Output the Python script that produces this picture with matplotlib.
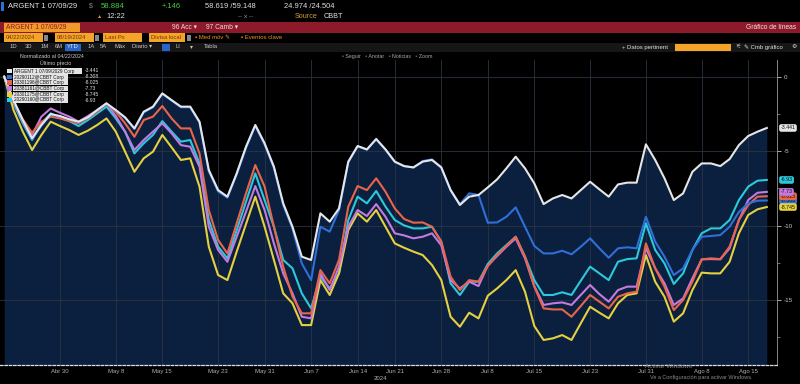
import matplotlib
matplotlib.use('Agg')
import matplotlib.pyplot as plt
import numpy as np
import pandas as pd
from matplotlib.patches import Rectangle

plt.rcParams['font.family'] = ['Liberation Sans', 'DejaVu Sans']

# ---------------- data ----------------
start_date = '2024-04-22'
end_date = '2024-08-19'
market_holidays = ['2024-05-27', '2024-06-19', '2024-07-04']

series_names = ['ARGENT 1 07/09/2029 Corp', '20290112@CBBT Corp', '20301196@CBBT Corp',
                '20381161@CBBT Corp', '20301175@CBBT Corp', '20290160@CBBT Corp']
series_colors = ['#e6e6e6', '#2f6fd8', '#e8654c', '#c47be0', '#e4d040', '#2cc9dc']
last_values = [-3.441, -8.308, -8.025, -7.73, -8.745, -6.93]

argent = [0, -1.57, -2.91, -4.14, -3.24, -2.51, -2.64, -2.86, -3.02, -2.73,
          -2.24, -1.79, -2.24, -2.73, -3.47, -2.35, -2.01, -1.12, -1.57, -2.01,
          -2.01, -3.02, -6.26, -7.61, -8.05, -6.49, -4.70, -3.24, -4.47, -6.04,
          -8.50, -10.07, -12.08, -12.30, -9.17, -9.73, -8.84, -5.70, -4.65, -4.88,
          -4.18, -4.88, -5.70,
          -6.00, -6.09, -5.70, -5.59, -6.09, -7.61, -8.61, -8.05, -7.94, -7.43,
          -6.89, -6.15, -5.37, -6.15, -7.16, -8.55, -8.17, -7.94, -8.17, -7.61,
          -7.05, -7.56, -8.05, -7.23, -7.11, -7.11, -4.54, -5.59, -6.82, -8.28,
          -7.83, -6.38, -5.82, -5.82, -6.00, -5.53, -4.59, -3.98, -3.69, -3.441]
bond_blue = [0, -1.6, -2.95, -4.2, -3.28, -2.55, -2.66, -2.88, -3.05, -2.76,
             -2.27, -1.82, -2.27, -2.76, -3.5, -2.4, -2.05, -1.15, -1.6, -2.05,
             -2.05, -3.08, -6.35, -7.7, -8.12, -6.56, -4.78, -3.3, -4.55, -6.12,
             -8.6, -10.2, -12.53, -13.65, -10.07, -10.40, -8.95, -5.75, -4.68, -4.9,
             -4.2, -4.9, -5.72,
             -6.00, -6.09, -5.66, -5.55, -6.09, -7.61, -8.55, -7.83, -7.94, -9.80,
             -9.78, -9.40, -8.77, -10.07, -11.36, -11.86, -11.86, -11.68, -11.92, -11.41,
             -10.85, -11.52, -12.15, -11.52, -11.45, -11.52, -9.40, -11.07, -12.08, -13.31,
             -12.86, -11.63, -10.74, -10.69, -10.63, -10.07, -9.08, -8.50, -8.32, -8.308]
bond_red = [0, -1.68, -2.86, -3.76, -3.02, -2.68, -2.80, -2.98, -3.13, -2.80,
            -2.35, -1.83, -2.35, -3.13, -4.03, -2.91, -2.68, -1.97, -2.80, -3.47,
            -3.47, -5.15, -8.95, -10.96, -11.86, -9.84, -7.83, -5.93, -7.38, -10.07,
            -12.75, -14.77, -15.88, -15.88, -12.98, -13.87, -12.30, -8.72, -7.34, -7.61,
            -6.82, -7.72, -8.84,
            -9.55, -9.80, -9.78, -10.07, -11.07, -13.42, -14.32, -13.65, -13.76, -12.71,
            -11.97, -11.36, -10.74, -12.08, -14.09, -15.55, -15.62, -15.62, -16.11, -15.39,
            -14.65, -15.10, -15.55, -14.77, -14.54, -14.43, -11.19, -12.86, -14.09, -15.66,
            -14.99, -13.76, -12.26, -12.19, -12.24, -11.41, -9.62, -8.61, -8.05, -8.025]
bond_violet = [0, -1.68, -3.02, -3.91, -2.68, -2.13, -2.42, -2.68, -3.02, -2.64,
               -2.24, -1.79, -2.64, -3.69, -4.92, -4.25, -3.69, -3.13, -3.80, -4.59,
               -4.70, -6.04, -10.07, -11.63, -12.42, -10.74, -9.06, -7.34, -8.95, -11.19,
               -13.20, -14.54, -16.11, -16.22, -13.20, -14.32, -12.75, -10.07, -8.95, -9.35,
               -8.55, -9.40, -10.51,
               -10.65, -10.85, -10.74, -10.51, -11.32, -13.65, -14.21, -13.76, -14.05, -12.68,
               -12.04, -11.41, -10.85, -12.19, -14.05, -15.32, -15.21, -15.15, -15.32, -14.65,
               -13.98, -14.59, -15.10, -14.32, -14.09, -14.09, -11.52, -12.86, -13.87, -15.32,
               -14.88, -13.53, -12.26, -12.24, -12.26, -11.52, -9.62, -8.28, -7.79, -7.73]
bond_yellow = [0, -2.24, -3.69, -4.92, -3.91, -3.02, -3.31, -3.58, -3.91, -3.62,
               -3.24, -2.80, -3.69, -5.03, -6.38, -5.48, -5.03, -3.91, -4.74, -5.59,
               -5.48, -7.38, -11.41, -13.31, -13.65, -11.74, -9.89, -8.05, -10.07, -12.30,
               -14.54, -15.21, -16.67, -16.67, -13.65, -14.65, -13.20, -10.29, -9.17, -9.73,
               -8.95, -10.07, -11.19,
               -11.48, -11.74, -11.97, -12.64, -13.65, -16.11, -16.78, -15.84, -16.22, -14.70,
               -14.21, -13.65, -12.98, -14.43, -16.73, -17.67, -17.56, -17.34, -17.67, -16.55,
               -15.44, -15.84, -16.22, -15.21, -14.65, -14.54, -11.97, -13.76, -14.77, -16.44,
               -15.88, -14.32, -13.15, -13.20, -13.20, -12.42, -10.51, -9.28, -8.90, -8.745]
bond_cyan = [0, -1.79, -3.13, -4.25, -3.13, -2.46, -2.73, -2.98, -3.31, -2.91,
             -2.46, -2.01, -2.80, -3.69, -5.15, -4.47, -3.91, -2.98, -3.69, -4.36,
             -4.25, -5.82, -9.62, -11.41, -12.19, -10.29, -8.39, -6.49, -8.28, -10.07,
             -12.30, -12.86, -14.54, -15.55, -13.42, -14.21, -13.20, -9.62, -8.05, -8.50,
             -7.67, -8.72, -9.62,
             -9.98, -10.18, -10.18, -10.07, -11.07, -13.87, -14.65, -13.76, -13.76, -12.57,
             -11.86, -11.30, -10.74, -12.08, -13.65, -14.65, -14.65, -14.47, -14.65, -13.69,
             -12.75, -13.20, -13.65, -12.42, -12.24, -12.19, -9.84, -11.63, -12.53, -13.91,
             -13.20, -11.63, -10.51, -10.18, -10.18, -9.62, -8.28, -7.38, -6.98, -6.93]

tick_dates = ['2024-04-30', '2024-05-08', '2024-05-15', '2024-05-23', '2024-05-31',
              '2024-06-07', '2024-06-14', '2024-06-21', '2024-06-28', '2024-07-08',
              '2024-07-15', '2024-07-23', '2024-07-31', '2024-08-08', '2024-08-15']
tick_labels = ['Abr 30', 'May 8', 'May 15', 'May 23', 'May 31', 'Jun 7', 'Jun 14',
               'Jun 21', 'Jun 28', 'Jul 8', 'Jul 15', 'Jul 23', 'Jul 31', 'Ago 8', 'Ago 15']
y_ticks = [0, -5, -10, -15]

# ---------------- figure ----------------
W, H = 800, 384
fig = plt.figure(figsize=(8, 3.84), dpi=100, facecolor='black')

dates = pd.bdate_range(start_date, end_date)
dates = dates[~dates.isin(pd.to_datetime(market_holidays))]
x = np.arange(len(dates))
series = [argent, bond_blue, bond_red, bond_violet, bond_yellow, bond_cyan]

def T(px, py, s, color='#e0e0e0', size=5.2, ha='left', **kw):
    return fig.text(px / W, 1 - py / H, s, color=color, fontsize=size, ha=ha,
                    va='center', **kw)

def R(x0, y0, x1, y1, color, z=1):
    r = Rectangle((x0 / W, 1 - y1 / H), (x1 - x0) / W, (y1 - y0) / H,
                  transform=fig.transFigure, facecolor=color, edgecolor='none', zorder=z)
    fig.patches.append(r)
    return r

# axes: plot spans px 0..777 horizontally, 60..365 vertically
ax = fig.add_axes([0 / W, (H - 365) / H, 777 / W, 305 / H])
ax.set_facecolor('black')
ax.set_xlim(-4.2 / 9.3, (777 - 4.2) / 9.3)
ax.set_ylim(-(365 - 76.7) / 14.9, -(60 - 76.7) / 14.9)

tick_idx = [int(np.where(dates == pd.Timestamp(d))[0][0]) for d in tick_dates]

ax.fill_between(x, argent, ax.get_ylim()[0], color='#0b1f3e', zorder=1, lw=0)
for v in y_ticks:
    ax.axhline(v, color='#2c3442', lw=0.6, zorder=1.5)
for t in tick_idx:
    ax.axvline(t, color='#2c3442', lw=0.6, zorder=1.5)

draw_order = [4, 3, 2, 5, 1, 0]
for k in draw_order:
    ax.plot(x, series[k], color=series_colors[k], lw=1.5, zorder=3 + 0.1 * (6 - k),
            solid_joinstyle='round')

ax.set_xticks(tick_idx)
ax.set_xticklabels(tick_labels)
ax.tick_params(axis='x', length=0, pad=3, labelsize=4.3, colors='#b0b0b0')
ax.yaxis.tick_right()
ax.set_yticks(y_ticks)
ax.set_yticklabels([str(v) for v in y_ticks])
ax.set_yticks([-2.5, -7.5, -12.5, -17.5], minor=True)
ax.tick_params(axis='y', which='major', length=3, width=0.6, pad=2, labelsize=4.5,
               colors='#c8c8c8', direction='out')
ax.tick_params(axis='y', which='minor', length=2, width=0.5, colors='#999999')
for s in ['top', 'left']:
    ax.spines[s].set_visible(False)
ax.spines['right'].set_color('#9a9a9a')
ax.spines['right'].set_linewidth(0.6)
ax.spines['bottom'].set_color('#d8e0ee')
ax.spines['bottom'].set_linewidth(0.9)
ax.spines['bottom'].set_linestyle((0, (2, 1.5)))

# last value tags
tag_text = ['-3.441', '-8.308', '-8.025', '-7.73', '-8.745', '-6.93']
tag_order = [1, 2, 3, 5, 4, 0]
for k in tag_order:
    ax.annotate(tag_text[k],
                xy=(1, series[k][-1]), xycoords=('axes fraction', 'data'),
                xytext=(2.5, 0), textcoords='offset points', va='center', ha='left',
                fontsize=3.8, color='#111111', annotation_clip=False,
                bbox=dict(boxstyle='round,pad=0.25,rounding_size=0.4', fc=series_colors[k],
                          ec='none'))

T(380, 378, '2024', color='#b0b0b0', size=4.3, ha='center')

# ---------------- header ----------------
R(1, 2, 4, 11, '#2f6fd8')
T(8, 6.5, 'ARGENT 1 07/09/29', color='#e8e8e8', size=5.4)
T(89, 6.5, '$', color='#888888', size=5.0)
T(101, 6.5, '58.884', color='#3fcf3f', size=5.6)
T(162, 6.5, '+.146', color='#3fcf3f', size=5.4)
T(205, 6.5, '58.619 /59.148', color='#e0e0e0', size=5.4)
T(284, 6.5, '24.974 /24.504', color='#e0e0e0', size=5.4)
T(97, 16.5, '▲', color='#e89a2c', size=3.8)
T(106, 16.5, '12:22', color='#e0e0e0', size=5.4)
T(238, 16.5, '-- x --', color='#9a9a9a', size=4.6)
T(295, 16.5, 'Source', color='#d09a3a', size=5.2)
T(324, 16.5, 'CBBT', color='#e0e0e0', size=5.2)

# red band
R(0, 22, 800, 32.5, '#8c1a2b')
R(4, 23, 80, 31.5, '#f09a2a', z=2)
T(6, 27.5, 'ARGENT 1 07/09/29', color='#8c1a2b', size=4.8)
T(172, 27.5, '96 Acc ▾', color='#f0d8d8', size=4.8)
T(206, 27.5, '97 Camb ▾', color='#f0d8d8', size=4.8)
T(796, 27.5, 'Gráfico de líneas', color='#f4e4e4', size=4.8, ha='right')

# orange boxes row
for (a, b, s) in [(4, 43, '04/22/2024'), (55, 94, '08/19/2024'), (103, 142, 'Last Px'),
                  (149, 185, 'Divisa local')]:
    R(a, 33.5, b, 41.5, '#f4a428', z=2)
    T(a + 2, 37.5, s, color='#6a3a08', size=4.2)
R(44, 34.5, 48, 40.5, '#888888', z=2)
R(95, 34.5, 99, 40.5, '#888888', z=2)
R(187, 34.5, 191, 40.5, '#888888', z=2)
T(195, 37.5, '▪ Med móv ✎', color='#e8941e', size=4.3)
T(241, 37.5, '▪ Eventos clave', color='#e8941e', size=4.3)

# toolbar row
R(0, 42.5, 800, 51.5, '#161616')
for px, s in [(10, '1D'), (25, '3D'), (41, '1M'), (55, '6M'), (88, '1A'),
              (100, '5A'), (115, 'Máx'), (132, 'Diario ▾'), (175, 'LI'), (190, '▾'),
              (204, 'Tabla')]:
    T(px, 47, s, color='#c8c8c8', size=4.2)
R(65, 43.5, 81, 50.5, '#2a64c8', z=2)
T(67, 47, 'YTD', color='#e8e8e8', size=4.2)
R(162, 43.5, 170, 50.5, '#2a64c8', z=2)
T(622, 47, '+ Datos pertinent', color='#e0e0e0', size=4.3)
R(675, 43.5, 731, 50.5, '#f4a428', z=2)
T(735, 47, '⚟', color='#c8c8c8', size=4.3)
T(744, 47, '✎ Cmb gráfico', color='#e0e0e0', size=4.3)
T(791, 47, '⚙', color='#e0e0e0', size=4.3)

# chart toolbar
T(342, 56.5, '▫ Seguir   ▫ Anotar   ▫ Noticias   ▫ Zoom', color='#a8a8a8', size=3.8)

# legend
T(20, 56.5, 'Normalizado al 04/22/2024', color='#d0d0d0', size=3.8)
T(40, 63.5, 'Último precio', color='#d0d0d0', size=3.8)
leg_y = [71, 77, 82.6, 88.4, 94.3, 100]
for k in range(6):
    yy = leg_y[k]
    R(7, yy - 2.4, 12, yy + 2.4, series_colors[k], z=4)
    R(13, yy - 2.8, 82 if k == 0 else 68, yy + 2.8, '#e4e4e4', z=4)
    fig.text(14 / W, 1 - yy / H, series_names[k], color='#111111', fontsize=3.4,
             ha='left', va='center', zorder=5)
    fig.text(85 / W, 1 - yy / H, tag_text[k], color='#e0e0e0',
             fontsize=3.6, ha='left', va='center', zorder=5)

# windows watermark
T(645, 366, 'Activar Windows', color='#8a8a8a', size=4.6)
T(650, 377, 'Ve a Configuración para activar Windows.', color='#8a8a8a', size=4.0)

fig.savefig('out.png', dpi=100, facecolor='black')
